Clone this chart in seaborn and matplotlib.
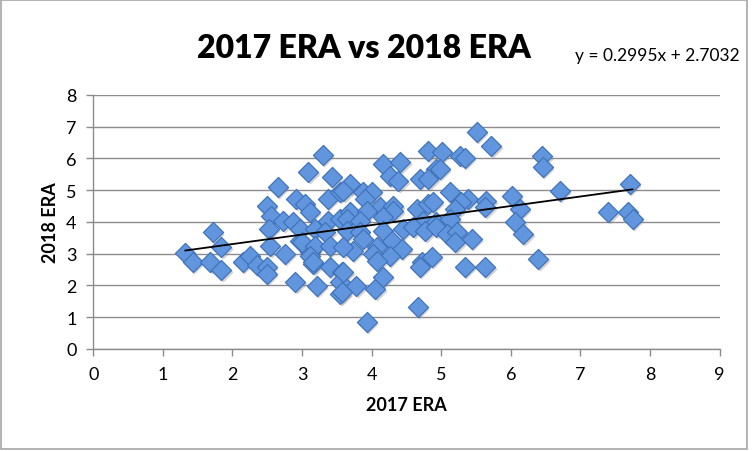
import matplotlib
matplotlib.use("Agg")
import matplotlib.pyplot as plt
import matplotlib.transforms as mtransforms
import numpy as np
import pandas as pd
import seaborn as sns

# values (2017 ERA, 2018 ERA per pitcher)
era_2017 = [
    1.32, 1.43, 1.72, 1.84, 1.68, 1.84, 2.15, 2.25, 2.35, 2.49,
    2.49, 2.90, 2.65, 2.49, 2.55, 2.52, 2.54, 2.75, 2.73, 2.92,
    3.04, 3.11, 2.87, 2.97, 3.11, 3.16, 3.21, 3.30, 3.09, 3.43,
    3.37, 3.54, 3.37, 3.54, 2.97, 3.18, 3.33, 3.00, 3.18, 3.40,
    3.11, 3.16, 3.40, 3.57, 3.55, 3.55, 4.81, 4.93, 4.16, 4.41,
    4.26, 4.38, 4.69, 4.81, 3.69, 3.59, 3.88, 4.00, 3.90, 4.12,
    4.31, 4.31, 4.65, 4.81, 3.69, 3.64, 3.93, 3.83, 4.16, 4.74,
    4.93, 4.16, 4.45, 4.60, 4.77, 3.64, 3.83, 3.88, 4.07, 4.29,
    4.43, 3.73, 3.59, 4.02, 4.26, 4.07, 4.72, 4.69, 3.59, 3.78,
    4.05, 4.16, 3.57, 3.93, 4.66, 5.51, 5.72, 5.01, 5.27, 5.34,
    4.98, 5.13, 4.88, 5.38, 5.29, 5.65, 5.63, 5.20, 5.13, 6.01,
    6.13, 6.06, 6.18, 4.93, 5.08, 5.22, 5.20, 5.44, 4.86, 5.34,
    5.63, 6.45, 6.46, 6.70, 6.39, 7.40, 7.68, 7.75, 7.71,
]
era_2018 = [
    3.02, 2.74, 3.68, 3.20, 2.73, 2.48, 2.73, 2.92, 2.64, 2.58,
    2.36, 2.10, 5.09, 4.50, 4.18, 3.77, 3.24, 2.99, 4.03, 4.72,
    4.56, 4.30, 4.00, 3.40, 3.05, 2.67, 1.98, 6.10, 5.56, 5.40,
    4.72, 4.93, 4.03, 4.09, 3.77, 3.77, 3.68, 3.36, 3.24, 3.24,
    2.92, 2.74, 2.58, 2.42, 1.73, 2.10, 6.23, 5.66, 5.82, 5.88,
    5.44, 5.28, 5.35, 5.35, 5.19, 4.97, 4.93, 4.93, 4.72, 4.46,
    4.50, 4.34, 4.40, 4.56, 4.30, 4.09, 4.34, 4.03, 4.15, 4.03,
    4.00, 3.71, 3.77, 3.84, 3.71, 3.71, 3.68, 3.46, 3.21, 3.40,
    3.14, 3.08, 3.21, 2.99, 2.92, 2.77, 2.74, 2.58, 2.42, 1.98,
    1.89, 2.26, 1.79, 0.85, 1.32, 6.82, 6.38, 6.19, 6.07, 6.00,
    5.66, 4.93, 4.62, 4.72, 4.62, 4.65, 4.46, 4.40, 4.09, 4.81,
    4.40, 4.00, 3.62, 3.84, 3.62, 3.68, 3.36, 3.46, 2.89, 2.58,
    2.58, 6.07, 5.72, 4.97, 2.83, 4.31, 4.31, 4.09, 5.19,
]

# trendline as shown on the chart
slope = 0.2995
intercept = 2.7032

df = pd.DataFrame({"era_2017": era_2017, "era_2018": era_2018})

sns.set_style("white")
plt.rcParams["font.family"] = ["Lato", "DejaVu Sans"]
plt.rcParams["text.color"] = "black"
plt.rcParams["axes.labelcolor"] = "black"
plt.rcParams["xtick.labelcolor"] = "black"
plt.rcParams["ytick.labelcolor"] = "black"

fig = plt.figure(figsize=(7.52, 4.52), dpi=100)
ax = fig.add_axes([0.124, 0.2257, 0.833, 0.5623])

# soft drop shadow under the markers
shadow = mtransforms.offset_copy(ax.transData, fig=fig, x=1.5, y=-2, units="dots")
ax.scatter(df["era_2017"], df["era_2018"], marker="D", s=105, color="#7f7f7f",
           alpha=0.35, linewidths=0, transform=shadow, zorder=2)

sns.scatterplot(
    data=df,
    x="era_2017",
    y="era_2018",
    marker="D",
    s=105,
    color="#6196de",
    edgecolor="#4173ba",
    linewidth=0.9,
    ax=ax,
    zorder=3
)

fit_x = np.array([min(era_2017), max(era_2017)])
fit = pd.DataFrame({"x": fit_x, "y": slope * fit_x + intercept})
sns.lineplot(data=fit, x="x", y="y", color="black", linewidth=1.3, ax=ax, zorder=4)

ax.set_xlim(0, 9)
ax.set_ylim(0, 8)
ax.set_xticks(range(0, 10))
ax.set_yticks(range(0, 9))
ax.yaxis.grid(True, color="#8c8c8c", linewidth=1)
ax.xaxis.grid(False)
ax.set_axisbelow(True)

for side in ["top", "right"]:
    ax.spines[side].set_visible(False)
for side in ["left", "bottom"]:
    ax.spines[side].set_color("#8c8c8c")
    ax.spines[side].set_linewidth(1)

ax.tick_params(axis="both", direction="out", length=5, width=1, color="#8c8c8c",
               labelsize=13, pad=7, left=True, bottom=True)

ax.set_xlabel("2017 ERA", fontsize=13, fontweight="bold", labelpad=10)
ax.set_ylabel("2018 ERA", fontsize=13, fontweight="bold", labelpad=5)

fig.text(0.484, 0.892, "2017 ERA vs 2018 ERA", ha="center", va="center",
         fontsize=23, fontweight="heavy")
fig.text(0.874, 0.876, "y = 0.2995x + 2.7032", ha="center", va="center", fontsize=12.5)

# chart frame
fig.patches.append(plt.Rectangle((0.001, 0.004), 0.993, 0.993, transform=fig.transFigure,
                                 fill=False, edgecolor="#a6a6a6", linewidth=1.2))

fig.savefig("out.png", dpi=100)
